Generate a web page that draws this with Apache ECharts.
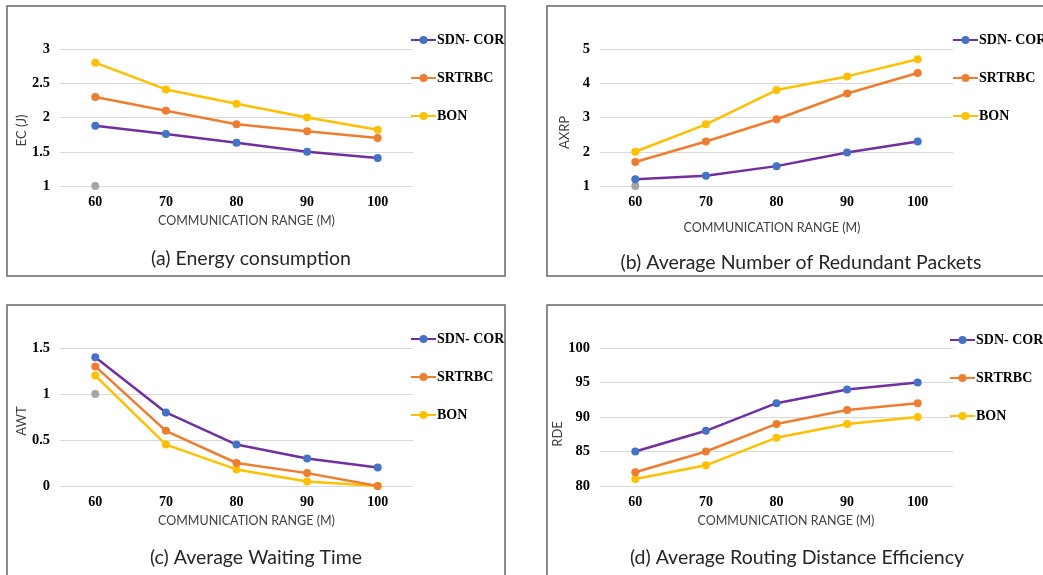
<!DOCTYPE html>
<html>
<head>
<meta charset="utf-8">
<script src="https://cdn.jsdelivr.net/npm/echarts@6/dist/echarts.min.js"></script>
<style>html,body{margin:0;padding:0;background:#fff}#c{width:1043px;height:575px}</style>
</head>
<body>
<div id="c"></div>
<script>
const categories = ['60', '70', '80', '90', '100'];
const seriesNames = ['SDN- COR', 'SRTRBC', 'BON'];

// (a) Energy consumption
const ecSdn = [1.88, 1.76, 1.63, 1.50, 1.41];
const ecSrtrbc = [2.30, 2.10, 1.90, 1.80, 1.70];
const ecBon = [2.80, 2.41, 2.20, 2.00, 1.82];
const ecExtra = [1, null, null, null, null];

// (b) Average Number of Redundant Packets
const axrpSdn = [1.2, 1.3, 1.58, 1.98, 2.3];
const axrpSrtrbc = [1.7, 2.3, 2.95, 3.7, 4.3];
const axrpBon = [2.0, 2.8, 3.8, 4.2, 4.7];
const axrpExtra = [1, null, null, null, null];

// (c) Average Waiting Time
const awtSdn = [1.4, 0.8, 0.45, 0.3, 0.2];
const awtSrtrbc = [1.3, 0.6, 0.25, 0.14, 0.0];
const awtBon = [1.2, 0.45, 0.18, 0.05, 0.0];
const awtExtra = [1, null, null, null, null];

// (d) Average Routing Distance Efficiency
const rdeSdn = [85, 88, 92, 94, 95];
const rdeSrtrbc = [82, 85, 89, 91, 92];
const rdeBon = [81, 83, 87, 89, 90];

const titles = ['(a) Energy consumption', '(b) Average Number of Redundant Packets', '(c) Average Waiting Time', '(d) Average Routing Distance Efficiency'];
const yNames = ['EC (J)', 'AXRP', 'AWT', 'RDE'];
const xName = 'COMMUNICATION RANGE (M)';

const colors = {
  sdnLine: '#7030A0', sdnMark: '#4472C4',
  srt: '#ED7D31', bon: '#FFC000', extra: '#A5A5A5'
};

const panels = [
  {grid: {left: 60, top: 49, width: 353, height: 137}, y: {min: 1, max: 3, interval: 0.5}, data: [ecSdn, ecSrtrbc, ecBon], extra: ecExtra, xGap: 28, xPad: [0, 0, 0, 20], yPad: [0, 26, 0, 0], legend: {left: 410, top: 33}, title: {x: 246, y: 244}},
  {grid: {left: 600, top: 49, width: 353, height: 137}, y: {min: 1, max: 5, interval: 1}, data: [axrpSdn, axrpSrtrbc, axrpBon], extra: axrpExtra, xGap: 35, xPad: [0, 9, 0, 0], yPad: [0, 30, 0, 0], legend: {left: 952, top: 33}, title: {x: 796, y: 248}},
  {grid: {left: 60, top: 348, width: 353, height: 138}, y: {min: 0, max: 1.5, interval: 0.5}, data: [awtSdn, awtSrtrbc, awtBon], extra: awtExtra, xGap: 28, xPad: [0, 0, 0, 20], yPad: [0, 8, 0, 0], legend: {left: 410, top: 332}, title: {x: 251, y: 543}},
  {grid: {left: 600, top: 348, width: 353, height: 138}, y: {min: 80, max: 100, interval: 5}, data: [rdeSdn, rdeSrtrbc, rdeBon], extra: null, xGap: 28, xPad: [0, 0, 0, 19], yPad: [0, 34, 0, 0], legend: {left: 949, top: 333}, title: {x: 792, y: 543}}
];

const serif = 'Liberation Serif';
const sans = 'Lato';

const option = {
  animation: false,
  backgroundColor: '#fff',
  grid: [], xAxis: [], yAxis: [], series: [], legend: [], title: [],
  graphic: [
    {type: 'rect', shape: {x: 7, y: 6, width: 498, height: 270}, style: {fill: 'none', stroke: '#666', lineWidth: 1.5}, silent: true},
    {type: 'rect', shape: {x: 547, y: 6, width: 500, height: 270}, style: {fill: 'none', stroke: '#666', lineWidth: 1.5}, silent: true},
    {type: 'rect', shape: {x: 7, y: 305, width: 498, height: 280}, style: {fill: 'none', stroke: '#666', lineWidth: 1.5}, silent: true},
    {type: 'rect', shape: {x: 547, y: 305, width: 500, height: 280}, style: {fill: 'none', stroke: '#666', lineWidth: 1.5}, silent: true}
  ]
};

panels.forEach((p, i) => {
  option.grid.push(Object.assign({containLabel: false}, p.grid));
  option.xAxis.push({
    type: 'category', gridIndex: i, data: categories, boundaryGap: true,
    axisLine: {show: false}, axisTick: {show: false},
    axisLabel: {fontFamily: serif, fontWeight: 'bold', fontSize: 14, color: '#000', margin: 9},
    name: xName, nameLocation: 'middle', nameGap: p.xGap,
    nameTextStyle: {fontFamily: sans, fontSize: 12.5, color: '#404040', padding: p.xPad}
  });
  option.yAxis.push({
    type: 'value', gridIndex: i, min: p.y.min, max: p.y.max, interval: p.y.interval,
    axisLine: {show: false}, axisTick: {show: false},
    splitLine: {lineStyle: {color: '#D9D9D9', width: 1}},
    axisLabel: {fontFamily: serif, fontWeight: 'bold', fontSize: 14.5, color: '#000', margin: 10},
    name: yNames[i], nameLocation: 'middle', nameGap: 29, nameRotate: 90,
    nameTextStyle: {fontFamily: sans, fontSize: 13, color: '#404040', padding: p.yPad}
  });
  const styles = [
    {line: colors.sdnLine, mark: colors.sdnMark},
    {line: colors.srt, mark: colors.srt},
    {line: colors.bon, mark: colors.bon}
  ];
  p.data.forEach((d, k) => {
    option.series.push({
      type: 'line', name: seriesNames[k], xAxisIndex: i, yAxisIndex: i, data: d,
      symbol: 'circle', symbolSize: 8, showSymbol: true,
      lineStyle: {color: styles[k].line, width: 2.5},
      itemStyle: {color: styles[k].mark},
      z: 10 - k
    });
  });
  if (p.extra) {
    option.series.push({
      type: 'line', name: 'extra', xAxisIndex: i, yAxisIndex: i, data: p.extra,
      symbol: 'circle', symbolSize: 8, showSymbol: true,
      lineStyle: {color: colors.extra, width: 2.5},
      itemStyle: {color: colors.extra}, z: 1
    });
  }
  option.legend.push({
    data: seriesNames, orient: 'vertical', left: p.legend.left, top: p.legend.top,
    itemWidth: 25, itemHeight: 10, itemGap: 24, padding: 0,
    textStyle: {fontFamily: serif, fontWeight: 'bold', fontSize: 14, color: '#000', padding: [0, 0, 0, -4]}
  });
  option.title.push({
    text: titles[i], left: p.title.x, top: p.title.y, textAlign: 'center',
    textStyle: {fontFamily: sans, fontSize: 19.5, fontWeight: 'normal', color: '#262626'}
  });
});

const chart = echarts.init(document.getElementById('c'), null, {renderer: 'canvas'});
chart.setOption(option);
</script>
</body>
</html>
